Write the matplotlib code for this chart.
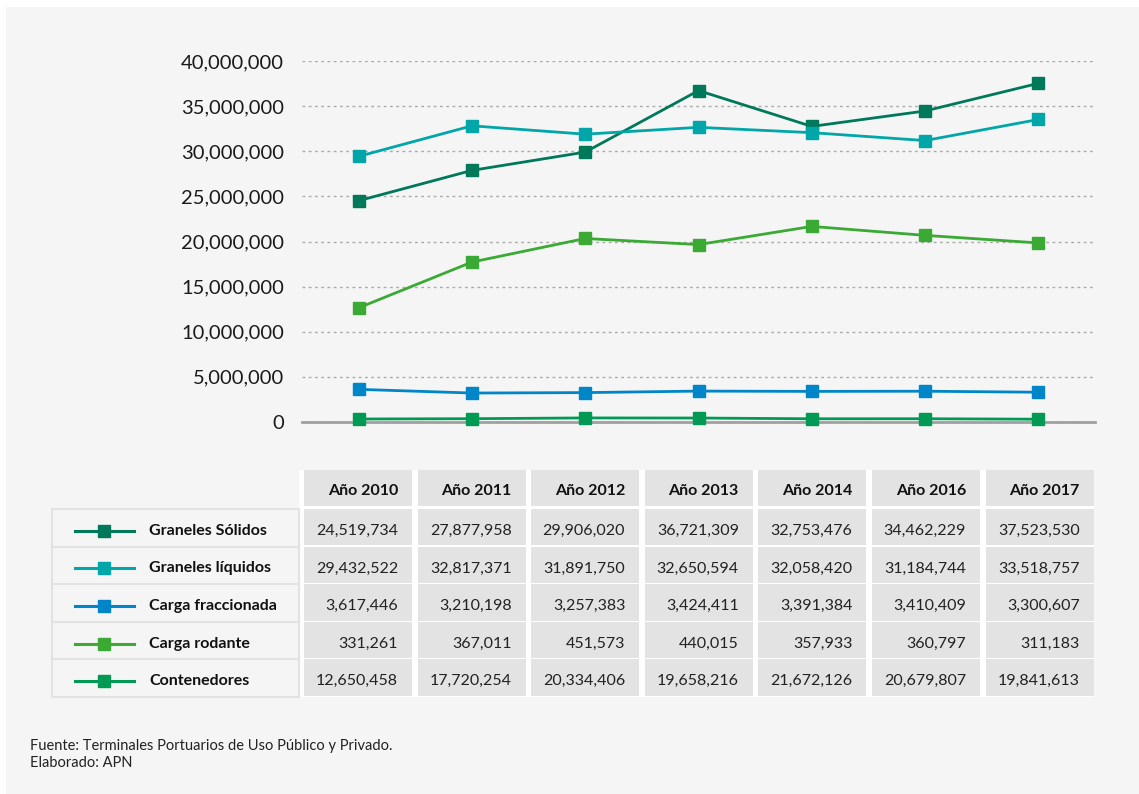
import numpy as np
import matplotlib.pyplot as plt
from matplotlib.patches import Rectangle
from matplotlib.lines import Line2D

plt.rcParams['font.family'] = ['Lato', 'DejaVu Sans']

# datos
anios = ["Año 2010", "Año 2011", "Año 2012", "Año 2013", "Año 2014", "Año 2016", "Año 2017"]
series = ["Graneles Sólidos", "Graneles líquidos", "Carga fraccionada", "Carga rodante", "Contenedores"]
graneles_solidos = [24519734, 27877958, 29906020, 36721309, 32753476, 34462229, 37523530]
graneles_liquidos = [29432522, 32817371, 31891750, 32650594, 32058420, 31184744, 33518757]
carga_fraccionada = [3617446, 3210198, 3257383, 3424411, 3391384, 3410409, 3300607]
carga_rodante = [331261, 367011, 451573, 440015, 357933, 360797, 311183]
contenedores = [12650458, 17720254, 20334406, 19658216, 21672126, 20679807, 19841613]
valores = [graneles_solidos, graneles_liquidos, carga_fraccionada, carga_rodante, contenedores]

# colores de la tabla (leyenda)
colores = ["#00785a", "#00a6a8", "#0085c9", "#3aaa35", "#009a55"]
# en el grafico los colores de rodante y contenedores van intercambiados
colores_linea = ["#00785a", "#00a6a8", "#0085c9", "#009a55", "#3aaa35"]

W, H = 1139, 794
fig = plt.figure(figsize=(W / 100, H / 100), dpi=100, facecolor="white")

# fondo gris del panel
fondo = fig.add_axes([0, 0, 1, 1])
fondo.set_xlim(0, W)
fondo.set_ylim(H, 0)
fondo.axis("off")
fondo.add_patch(Rectangle((6, 7), W - 6, H - 7, facecolor="#f5f5f5", edgecolor="none"))

# grafico de lineas
x0, x1, ytop, y0 = 302, 1095, 61, 422
ax = fig.add_axes([x0 / W, 1 - y0 / H, (x1 - x0) / W, (y0 - ytop) / H])
ax.set_facecolor("none")
x = np.arange(len(anios))
for i in range(len(series)):
    ax.plot(x, valores[i], color=colores_linea[i], lw=2.0, marker="s", ms=9,
            mec=colores_linea[i], clip_on=False, zorder=3)
ax.set_xlim(-0.5, len(anios) - 0.5)
ax.set_ylim(0, 40000000)
ax.set_yticks(np.arange(0, 40000001, 5000000))
ax.set_yticklabels(["{:,}".format(v) for v in range(0, 40000001, 5000000)], fontsize=14.5, color="#1a1a1a")
ax.set_xticks([])
ax.tick_params(axis="y", length=0, pad=13)
for s in ["top", "right", "left"]:
    ax.spines[s].set_visible(False)
ax.spines["bottom"].set_color("#a0a0a0")
ax.spines["bottom"].set_linewidth(2)
ax.yaxis.grid(True, linestyle=(0, (2, 2.5)), color="#aaaaaa", lw=1)
ax.set_axisbelow(True)

# tabla
col_left, col_w, pitch = 304, 108, 113.6
hdr_top, hdr_bot = 470, 506
row_top, row_h = 509, 37.6
leg_left, leg_right = 52, 299
n_rows = len(series)
tab_bot = row_top + n_rows * row_h
dy = 3  # ajuste vertical del texto

fondo.add_patch(Rectangle((leg_right, hdr_top), col_left + 6 * pitch + col_w - leg_right,
                          tab_bot - hdr_top, facecolor="white", edgecolor="none"))
for j, a in enumerate(anios):
    cx = col_left + j * pitch
    fondo.add_patch(Rectangle((cx, hdr_top), col_w, hdr_bot - hdr_top, facecolor="#e3e3e3", edgecolor="none"))
    fondo.text(cx + col_w - 14, (hdr_top + hdr_bot) / 2 + dy, a, ha="right", va="center",
               fontsize=11.5, fontweight="bold", color="#111111")
    for r in range(n_rows):
        ry = row_top + r * row_h
        fondo.add_patch(Rectangle((cx, ry), col_w, row_h - 1.2, facecolor="#e3e3e3", edgecolor="none"))
        fondo.text(cx + col_w - 14, ry + row_h / 2 + dy, "{:,}".format(valores[r][j]), ha="right", va="center",
                   fontsize=11.5, color="#222222")

# columna de leyenda
fondo.add_patch(Rectangle((leg_left, row_top), leg_right - leg_left, tab_bot - row_top,
                          facecolor="#f5f5f5", edgecolor="#e2e2e2", lw=1.5))
for r in range(n_rows):
    ry = row_top + r * row_h
    if r > 0:
        fondo.plot([leg_left, leg_right], [ry, ry], color="#e2e2e2", lw=1.5)
    cy = ry + row_h / 2 + dy
    fondo.add_line(Line2D([75, 134], [cy, cy], color=colores[r], lw=2.2))
    fondo.add_line(Line2D([104], [cy], color=colores[r], marker="s", ms=8))
    fondo.text(149, cy, series[r], ha="left", va="center", fontsize=11.5, fontweight="bold", color="#111111")

# fuente
fondo.text(30, 746, "Fuente: Terminales Portuarios de Uso Público y Privado.", ha="left", va="center",
           fontsize=10.5, color="#222222")
fondo.text(30, 763, "Elaborado: APN", ha="left", va="center", fontsize=10.5, color="#222222")

fig.savefig("out.png", dpi=100, facecolor=fig.get_facecolor())
